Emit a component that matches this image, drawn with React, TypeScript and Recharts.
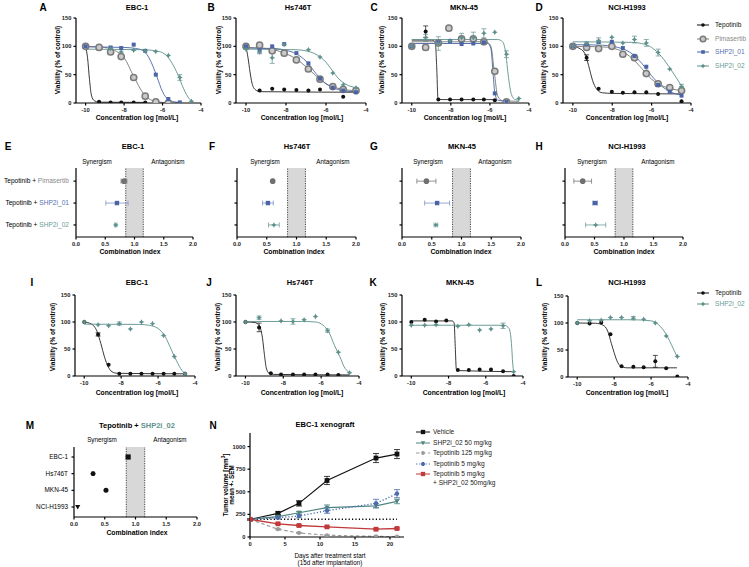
import React from 'react';
import { ComposedChart, Line, Scatter, XAxis, YAxis, ErrorBar, ReferenceArea, ReferenceLine } from 'recharts';

// ---- dose response data: [log conc, viability %, sem] ----
const A_TEP = [[-10, 100], [-9.3, 2], [-8.7, 1], [-8.15, 1], [-7.5, 1], [-6.9, 1]];
const A_TEP_FIT = [[-10, 99], [-9.9, 80], [-9.8, 42], [-9.7, 14], [-9.55, 4], [-9.3, 1.5], [-6.9, 1]];
const A_PIM = [[-10, 100], [-9.3, 98], [-8.7, 90, 3], [-8.15, 82, 3], [-7.5, 45, 3], [-6.9, 12, 3], [-6.35, 2], [-5.7, 0]];
const A_PIM_FIT = [[-10, 100], [-9, 98], [-8.5, 93], [-8, 80], [-7.5, 47], [-7, 17], [-6.5, 4], [-6, 1], [-5.7, 0.5]];
const A_S01 = [[-10, 100], [-8.7, 98], [-8.15, 97], [-7.5, 103], [-6.9, 92], [-6.35, 50], [-5.7, 7], [-5.1, 1]];
const A_S01_FIT = [[-10, 99], [-8, 98], [-7.2, 95], [-6.8, 85], [-6.5, 65], [-6.3, 47], [-6, 20], [-5.7, 6], [-5.3, 1.5], [-5.1, 1]];
const A_S02 = [[-8.7, 96], [-8.15, 90, 4], [-7.5, 93], [-6.9, 92], [-6.35, 91], [-5.7, 84], [-5.1, 45, 5], [-4.5, 3]];
const A_S02_FIT = [[-10, 95], [-7, 94], [-6.2, 91], [-5.8, 84], [-5.5, 70], [-5.2, 50], [-4.9, 25], [-4.6, 7], [-4.5, 4]];

const B_TEP = [[-10, 100], [-9.32, 22], [-8.69, 25], [-8.09, 24], [-7.48, 23], [-6.88, 22], [-6.3, 24], [-5.14, 11], [-4.5, 21]];
const B_TEP_FIT = [[-10, 99], [-9.9, 80], [-9.8, 55], [-9.7, 35], [-9.55, 24], [-9.3, 20], [-4.5, 19]];
const B_PIM = [[-10, 100], [-9.32, 102], [-8.69, 92], [-8.09, 88], [-7.48, 76], [-6.88, 60], [-6.3, 42], [-5.66, 29], [-5.14, 24], [-4.5, 22]];
const B_PIM_FIT = [[-10, 98], [-9, 96], [-8.5, 93], [-8, 87], [-7.5, 78], [-7, 64], [-6.5, 48], [-6, 34], [-5.5, 27], [-5, 23], [-4.5, 22]];
const B_S01 = [[-10, 100], [-9.32, 93, 6], [-8.69, 100], [-8.09, 104], [-7.48, 88], [-6.88, 70], [-6.3, 43], [-5.66, 27], [-5.14, 22], [-4.5, 19]];
const B_S01_FIT = [[-10, 97], [-8.5, 96], [-8, 93], [-7.5, 87], [-7, 74], [-6.5, 52], [-6, 34], [-5.5, 25], [-5, 21], [-4.5, 20]];
const B_S02 = [[-10, 95], [-9.32, 90], [-8.69, 80, 10], [-8.09, 103], [-6.88, 94], [-6.3, 81], [-5.66, 53], [-5.14, 32], [-4.5, 27]];
const B_S02_FIT = [[-10, 95], [-7.5, 94], [-7, 92], [-6.5, 86], [-6, 72], [-5.7, 58], [-5.4, 44], [-5, 33], [-4.5, 27]];

const C_TEP = [[-10, 100], [-9.29, 126, 10], [-8.64, 6], [-8.04, 6], [-7.45, 6], [-6.85, 6], [-6.31, 6], [-5.75, 5]];
const C_TEP_FIT = [[-10, 111], [-9, 111], [-8.8, 108], [-8.72, 60], [-8.66, 8], [-8.5, 6], [-5.75, 6]];
const C_PIM = [[-10, 100], [-9.29, 98], [-8.64, 106], [-8.1, 132], [-7.45, 113], [-6.85, 113], [-6.31, 108], [-5.75, 56], [-5.15, 2]];
const C_PIM_FIT = [[-10, 108], [-6.2, 108], [-5.95, 100], [-5.78, 56], [-5.6, 12], [-5.35, 4], [-4.5, 3]];
const C_S01 = [[-10, 100], [-8.64, 107], [-8.04, 109], [-7.45, 104], [-6.85, 105], [-6.31, 107], [-5.75, 17], [-5.15, 2]];
const C_S01_FIT = [[-10, 105], [-6.1, 105], [-5.95, 96], [-5.85, 58], [-5.75, 18], [-5.6, 5], [-5.15, 3]];
const C_S02 = [[-10, 100], [-9.29, 115, 6], [-8.64, 105, 12], [-8.04, 110], [-7.45, 115, 8], [-6.85, 115, 10], [-6.31, 123, 8], [-5.75, 125], [-5.15, 86, 6], [-4.52, 8]];
const C_S02_FIT = [[-10, 112], [-5.6, 112], [-5.35, 108], [-5.2, 90], [-5.05, 45], [-4.9, 15], [-4.7, 6], [-4.5, 5]];

const D_TEP = [[-10, 100], [-9.3, 80, 5], [-8.69, 25], [-8.02, 20], [-7.46, 18], [-6.87, 19], [-6.27, 19], [-5.67, 16], [-4.48, 3]];
const D_TEP_FIT = [[-10, 100], [-9.7, 97], [-9.4, 88], [-9.2, 66], [-9, 40], [-8.8, 25], [-8.5, 18], [-8, 17], [-4.5, 16]];
const D_PIM = [[-10, 100], [-9.3, 98], [-8.69, 96], [-8.02, 100], [-7.46, 86], [-6.87, 80], [-6.27, 52], [-5.67, 34], [-5.08, 27], [-4.48, 22]];
const D_PIM_FIT = [[-10, 100], [-8.5, 99], [-8, 97], [-7.5, 91], [-7, 79], [-6.5, 61], [-6, 42], [-5.5, 31], [-5, 25], [-4.5, 22]];
const D_S01 = [[-10, 100], [-9.3, 103], [-8.69, 108], [-8.02, 108], [-7.46, 97], [-6.87, 83], [-6.27, 64], [-5.67, 32], [-5.08, 20], [-4.48, 13]];
const D_S01_FIT = [[-10, 103], [-8.5, 102], [-8, 100], [-7.5, 96], [-7, 87], [-6.5, 70], [-6, 48], [-5.5, 30], [-5, 19], [-4.5, 14]];
const D_S02 = [[-10, 100], [-9.3, 105, 3], [-8.69, 110, 5], [-8.02, 116], [-7.46, 106], [-6.87, 112, 6], [-6.27, 106, 6], [-5.67, 89, 6], [-5.08, 60], [-4.48, 29, 4]];
const D_S02_FIT = [[-10, 108], [-7, 107], [-6.5, 105], [-6, 98], [-5.5, 82], [-5, 58], [-4.5, 31]];

const I_TEP = [[-10, 100], [-9.25, 77, 3], [-8.68, 21], [-8.1, 4], [-7.5, 4], [-6.9, 4], [-6.3, 4], [-5.7, 4], [-5.12, 4], [-4.54, 4]];
const I_TEP_FIT = [[-10, 100], [-9.6, 96], [-9.3, 82], [-9.1, 60], [-8.9, 35], [-8.7, 17], [-8.5, 8], [-8.2, 5], [-4.5, 4]];
const I_S02 = [[-10, 100], [-9.25, 95], [-8.68, 93], [-8.1, 97, 3], [-7.5, 87], [-6.9, 100], [-6.3, 97], [-5.7, 75], [-5.12, 36], [-4.54, 4]];
const I_S02_FIT = [[-10, 96], [-7, 95.5], [-6.5, 94], [-6, 88], [-5.6, 72], [-5.3, 50], [-5, 28], [-4.7, 10], [-4.5, 4]];

const J_TEP = [[-10, 100], [-9.28, 90, 8], [-8.66, 5], [-8.12, 3], [-7.49, 3], [-6.9, 3], [-6.3, 3], [-5.66, 3], [-5.09, 2]];
const J_TEP_FIT = [[-10, 100], [-9.5, 99], [-9.25, 92], [-9.1, 70], [-9, 40], [-8.9, 15], [-8.75, 5], [-8.5, 3], [-4.5, 2]];
const J_S02 = [[-10, 100], [-9.28, 108, 3], [-8.12, 102], [-7.49, 101, 5], [-6.9, 104], [-6.3, 110], [-5.66, 84, 3], [-5.09, 44], [-4.5, 6]];
const J_S02_FIT = [[-10, 101], [-7, 101], [-6.3, 100], [-5.9, 94], [-5.6, 82], [-5.3, 57], [-5, 35], [-4.8, 18], [-4.5, 6]];

const K_TEP = [[-10, 100], [-9.28, 104], [-8.67, 101], [-8.12, 103], [-7.5, 11], [-6.91, 11], [-6.33, 12], [-5.72, 12], [-5.07, 9], [-4.5, 0]];
const K_TEP_FIT = [[-10, 102], [-7.8, 102], [-7.7, 98], [-7.64, 55], [-7.58, 12], [-7.4, 10], [-4.5, 8]];
const K_S02 = [[-10, 94], [-9.28, 94], [-8.67, 95], [-7.5, 92], [-6.91, 95], [-6.33, 85], [-5.72, 87], [-5.07, 93, 5], [-4.5, 8]];
const K_S02_FIT = [[-10, 94], [-5, 94], [-4.75, 88], [-4.62, 60], [-4.55, 22], [-4.5, 8]];

const L_TEP = [[-10, 100], [-9.33, 99], [-8.7, 101], [-8.2, 79], [-7.6, 20], [-6.96, 19], [-6.4, 18], [-5.77, 29, 11], [-5.18, 16], [-4.58, 1]];
const L_TEP_FIT = [[-10, 100], [-9, 99.5], [-8.6, 96], [-8.35, 85], [-8.15, 62], [-8, 45], [-7.85, 30], [-7.65, 20], [-7.3, 17], [-4.6, 17]];
const L_S02 = [[-10, 100], [-9.33, 104], [-8.7, 105], [-8.2, 110], [-7.6, 110], [-6.96, 109, 3], [-6.4, 107], [-5.77, 100], [-5.18, 76], [-4.58, 38]];
const L_S02_FIT = [[-10, 106], [-7, 106], [-6, 104], [-5.6, 97], [-5.2, 80], [-4.9, 60], [-4.6, 38]];

// ---- combination index: [CI, error] for Pimasertib, SHP2i_01, SHP2i_02 ----
const CI_E = [[0.82, 0.05], [0.70, 0.19], [0.68, 0.02]];
const CI_F = [[0.6, 0.01], [0.52, 0.09], [0.62, 0.09]];
const CI_G = [[0.41, 0.16], [0.59, 0.21], [0.57, 0.03]];
const CI_H = [[0.30, 0.15], [0.51, 0.04], [0.52, 0.17]];

const M_CELLS = ['EBC-1', 'Hs746T', 'MKN-45', 'NCI-H1993'];
const M_CI = [0.88, 0.31, 0.52, 0.06];

// ---- xenograft ----
const N_DAYS = [0, 4, 7, 11, 18, 21];
const N_VEH = [195, 262, 372, 625, 873, 917];
const N_VEH_E = [10, 15, 30, 45, 50, 50];
const N_S02 = [195, 225, 268, 325, 345, 393];
const N_S02_E = [5, 10, 15, 30, 25, 25];
const N_T125 = [195, 86, 45, 19, 7, 4];
const N_T125_E = [5, 8, 5, 4, 3, 3];
const N_T5 = [195, 213, 232, 292, 372, 479];
const N_T5_E = [5, 12, 20, 30, 45, 45];
const N_COMBO = [195, 146, 127, 112, 86, 94];
const N_COMBO_E = [5, 8, 8, 8, 8, 8];
const N_BASE = 195;

const FONT = '"Liberation Sans", Arial, Helvetica, sans-serif';
const AX = { stroke: '#000', strokeWidth: 1.2 };
const TICK = { fontSize: 5.8, fontWeight: 700, fill: '#222', fontFamily: FONT };

const DRUG: any = {
  tep: { color: '#111', line: '#222', kind: 'circle', s: 2, name: 'Tepotinib', text: '#111' },
  pim: { color: '#7a7a7a', line: '#777', kind: 'ring', s: 3.1, name: 'Pimasertib', text: '#8a8a8a' },
  s01: { color: '#4a64a6', line: '#4a64a6', kind: 'square', s: 2, name: 'SHP2i_01', text: '#5470b0' },
  s02: { color: '#5e918c', line: '#5e918c', kind: 'star', s: 2.8, name: 'SHP2i_02', text: '#6a9b96' },
};

const toXY = (a: number[][]) => a.map(([x, y, e]) => ({ x, y, e: e ?? 0 }));

function Mark({ kind, cx, cy, color, s }: any) {
  if (cx == null || cy == null || isNaN(cx) || isNaN(cy)) return <g />;
  switch (kind) {
    case 'ring':
      return <circle cx={cx} cy={cy} r={s} fill="#c9c9c9" stroke={color} strokeWidth={1.5} />;
    case 'square':
      return <rect x={cx - s} y={cy - s} width={2 * s} height={2 * s} fill={color} />;
    case 'star': {
      const k = s * 0.35;
      return <path d={`M${cx},${cy - s}L${cx + k},${cy - k}L${cx + s},${cy}L${cx + k},${cy + k}L${cx},${cy + s}L${cx - k},${cy + k}L${cx - s},${cy}L${cx - k},${cy - k}Z`} fill={color} />;
    }
    case 'diamond':
      return <path d={`M${cx},${cy - s}L${cx + s},${cy}L${cx},${cy + s}L${cx - s},${cy}Z`} fill={color} />;
    case 'tri':
      return <path d={`M${cx - s},${cy - s * 0.8}L${cx + s},${cy - s * 0.8}L${cx},${cy + s}Z`} fill={color} />;
    case 'hex': {
      const h = s * 0.87;
      return <path d={`M${cx - s},${cy}L${cx - s / 2},${cy - h}L${cx + s / 2},${cy - h}L${cx + s},${cy}L${cx + s / 2},${cy + h}L${cx - s / 2},${cy + h}Z`} fill={color} />;
    }
    default:
      return <circle cx={cx} cy={cy} r={s} fill={color} />;
  }
}

function Txt({ x, y, size = 6.5, bold = false, align = 'c', color = '#000', rot = false, lh = 1.1, children }: any) {
  const tx = align === 'c' ? '-50%' : align === 'r' ? '-100%' : '0';
  return (
    <div style={{
      position: 'absolute', left: x, top: y, fontSize: size, fontWeight: bold ? 700 : 400, color,
      fontFamily: FONT, whiteSpace: 'nowrap', lineHeight: lh, textAlign: 'center',
      transform: `translate(${tx},-50%)${rot ? ' rotate(-90deg)' : ''}`,
    }}>{children}</div>
  );
}

function Frame({ r, yw = 20, xh = 12, children }: any) {
  const { x0, x1, y0, y1 } = r;
  return (
    <div style={{ position: 'absolute', left: x0 - yw, top: y0 - 4 }}>
      <ComposedChart width={yw + (x1 - x0) + 6} height={4 + (y1 - y0) + xh} margin={{ top: 4, right: 6, bottom: 0, left: 0 }}>
        {children}
      </ComposedChart>
    </div>
  );
}

function DosePanel({ r, series }: any) {
  return (
    <Frame r={r}>
      <XAxis type="number" dataKey="x" domain={[-10.5, -4]} ticks={[-10, -8, -6, -4]} allowDataOverflow height={12}
        tick={TICK} tickSize={2.5} axisLine={AX} tickLine={AX} interval={0} />
      <YAxis type="number" dataKey="y" domain={[0, 150]} ticks={[0, 50, 100, 150]} allowDataOverflow width={20}
        tick={TICK} tickSize={2.5} axisLine={AX} tickLine={AX} interval={0} />
      {series.map((s: any, i: number) => (
        <Line key={'f' + i} data={toXY(s.fit)} dataKey="y" type="monotone" stroke={DRUG[s.d].line}
          strokeWidth={0.9} dot={false} isAnimationActive={false} />
      ))}
      {series.map((s: any, i: number) => {
        const d = DRUG[s.d];
        return (
          <Scatter key={'p' + i} data={toXY(s.pts)} dataKey="y" isAnimationActive={false}
            shape={(p: any) => <Mark kind={d.kind} cx={p.cx} cy={p.cy} color={d.color} s={d.s} />}>
            <ErrorBar dataKey="e" direction="y" width={2.5} stroke={d.color} strokeWidth={0.7} />
          </Scatter>
        );
      })}
    </Frame>
  );
}

function CIPanel({ r, vals, rows, kinds }: any) {
  const lo = 0.4;
  const hi = rows === 3 ? 3.55 : 4.6;
  return (
    <Frame r={r}>
      <XAxis type="number" dataKey="x" domain={[0, 2]} ticks={[0, 0.5, 1, 1.5, 2]} height={12}
        tickFormatter={(v: number) => v.toFixed(1)} tick={TICK} tickSize={2.5} axisLine={AX} tickLine={AX} interval={0} />
      <YAxis type="number" dataKey="y" domain={[lo, hi]} reversed ticks={Array.from({ length: rows }, (_, i) => i + 1)}
        width={20} tickFormatter={() => ''} tickSize={2.5} axisLine={AX} tickLine={AX} interval={0} />
      <ReferenceArea x1={0.85} x2={1.15} y1={lo} y2={hi} fill="#d8d8d8" fillOpacity={1} stroke="none" />
      <ReferenceLine x={0.85} stroke="#333" strokeWidth={0.9} strokeDasharray="1.2 1.2" />
      <ReferenceLine x={1.15} stroke="#333" strokeWidth={0.9} strokeDasharray="1.2 1.2" />
      {vals.map((v: number[], i: number) => {
        const k = kinds[i];
        return (
          <Scatter key={'c' + i} data={[{ x: v[0], y: i + 1, e: v[1] ?? 0 }]} dataKey="y" isAnimationActive={false}
            shape={(p: any) => <Mark kind={k.kind} cx={p.cx} cy={p.cy} color={k.color} s={k.s} />}>
            <ErrorBar dataKey="e" direction="x" width={2.5} stroke={k.bar} strokeWidth={0.8} />
          </Scatter>
        );
      })}
    </Frame>
  );
}

const CI_KINDS = [
  { kind: 'circle', color: '#707070', bar: '#777', s: 2.8 },
  { kind: 'square', color: '#4a64a6', bar: '#7d93c6', s: 2.2 },
  { kind: 'star', color: '#5e918c', bar: '#6d9d98', s: 2.8 },
];
const M_KINDS = [
  { kind: 'square', color: '#111', bar: '#111', s: 2.6 },
  { kind: 'hex', color: '#111', bar: '#111', s: 2.7 },
  { kind: 'circle', color: '#111', bar: '#111', s: 2.5 },
  { kind: 'tri', color: '#111', bar: '#111', s: 2.6 },
];

function LegendRow({ x, y, kind, color, s, text, textColor, dash, lineW = 12, tx = 12, children }: any) {
  return (
    <>
      <svg style={{ position: 'absolute', left: x - lineW / 2, top: y - 5 }} width={lineW} height={10}>
        <line x1={0} y1={5} x2={lineW} y2={5} stroke={color} strokeWidth={1} strokeDasharray={dash} />
        <Mark kind={kind} cx={lineW / 2} cy={5} color={color} s={s} />
      </svg>
      <Txt x={x + tx} y={y} align="l" color={textColor ?? color} size={6.6}>{text}{children}</Txt>
    </>
  );
}

function DrugLegend({ x, y, keys, step }: any) {
  return (
    <>
      {keys.map((k: string, i: number) => {
        const d = DRUG[k];
        return <LegendRow key={k} x={x} y={y + i * step} kind={d.kind} color={d.color} s={d.s * 0.9} text={d.name} textColor={d.text} />;
      })}
    </>
  );
}

const nSeries = (vals: number[], errs: number[]) => N_DAYS.map((d, i) => ({ x: d, y: vals[i], e: errs[i] }));

const N_LINES = [
  { key: 'veh', vals: N_VEH, errs: N_VEH_E, color: '#111', kind: 'square', s: 2.4, dash: undefined, w: 1.2, name: 'Vehicle' },
  { key: 's02', vals: N_S02, errs: N_S02_E, color: '#4e8480', kind: 'tri', s: 2.4, dash: undefined, w: 1.2, name: 'SHP2i_02 50 mg/kg' },
  { key: 't125', vals: N_T125, errs: N_T125_E, color: '#9a9a9a', kind: 'circle', s: 2.1, dash: '3.5 2.5', w: 1.2, name: 'Tepotinib 125 mg/kg' },
  { key: 't5', vals: N_T5, errs: N_T5_E, color: '#4a6cae', kind: 'hex', s: 2.4, dash: '1.2 2', w: 1.4, name: 'Tepotinib 5 mg/kg' },
  { key: 'combo', vals: N_COMBO, errs: N_COMBO_E, color: '#c0393b', kind: 'square', s: 2.4, dash: undefined, w: 1.3, name: 'Tepotinib 5 mg/kg' },
];

function Xenograft() {
  return (
    <Frame r={{ x0: 250, x1: 404, y0: 433, y1: 537 }}>
      <XAxis type="number" dataKey="x" domain={[0, 22]} ticks={[0, 5, 10, 15, 20]} allowDataOverflow height={12}
        tick={TICK} tickSize={2.5} axisLine={AX} tickLine={AX} interval={0} />
      <YAxis type="number" dataKey="y" domain={[0, 1150]} ticks={[0, 250, 500, 750, 1000]} allowDataOverflow width={20}
        tick={TICK} tickSize={2.5} axisLine={AX} tickLine={AX} interval={0} />
      <ReferenceLine segment={[{ x: 0, y: N_BASE }, { x: 21, y: N_BASE }]} stroke="#000" strokeWidth={1.5} strokeDasharray="1.2 2.2" />
      {N_LINES.map((l) => (
        <Line key={l.key} data={nSeries(l.vals, l.errs)} dataKey="y" type="linear" stroke={l.color} strokeWidth={l.w}
          strokeDasharray={l.dash} isAnimationActive={false}
          dot={(p: any) => <Mark key={l.key + p.index} kind={l.kind} cx={p.cx} cy={p.cy} color={l.color} s={l.s} />}>
          <ErrorBar dataKey="e" direction="y" width={3} stroke={l.color} strokeWidth={0.8} />
        </Line>
      ))}
    </Frame>
  );
}

const VIAB = 'Viability (% of control)';
const CONC = 'Concentration log [mol/L]';

function CILabels({ x, y }: any) {
  return (
    <>
      {['pim', 's01', 's02'].map((k, i) => (
        <Txt key={k} x={x} y={y + i * 22} align="r" size={6.6}>
          Tepotinib + <span style={{ color: DRUG[k].text }}>{DRUG[k].name}</span>
        </Txt>
      ))}
    </>
  );
}

export default function App() {
  const rowTitles = [
    { l: 'A', lx: 43, t: 'EBC-1', tx: 137 }, { l: 'B', lx: 211, t: 'Hs746T', tx: 298 },
    { l: 'C', lx: 374, t: 'MKN-45', tx: 464 }, { l: 'D', lx: 539, t: 'NCI-H1993', tx: 627 },
  ];
  return (
    <div style={{ position: 'absolute', left: 0, top: 0, width: 749, height: 567, background: '#fff', overflow: 'hidden', fontFamily: FONT }}>
      {/* Row 1 */}
      {rowTitles.map((r) => (
        <React.Fragment key={r.l}>
          <Txt x={r.lx} y={7} size={10} bold>{r.l}</Txt>
          <Txt x={r.tx} y={8} size={7.5} bold>{r.t}</Txt>
        </React.Fragment>
      ))}
      <DosePanel r={{ x0: 76, x1: 201, y0: 18, y1: 103 }} series={[
        { d: 'tep', pts: A_TEP, fit: A_TEP_FIT }, { d: 'pim', pts: A_PIM, fit: A_PIM_FIT },
        { d: 's01', pts: A_S01, fit: A_S01_FIT }, { d: 's02', pts: A_S02, fit: A_S02_FIT }]} />
      <DosePanel r={{ x0: 236, x1: 366, y0: 18, y1: 103 }} series={[
        { d: 'tep', pts: B_TEP, fit: B_TEP_FIT }, { d: 'pim', pts: B_PIM, fit: B_PIM_FIT },
        { d: 's01', pts: B_S01, fit: B_S01_FIT }, { d: 's02', pts: B_S02, fit: B_S02_FIT }]} />
      <DosePanel r={{ x0: 402, x1: 529, y0: 18, y1: 103 }} series={[
        { d: 'tep', pts: C_TEP, fit: C_TEP_FIT }, { d: 'pim', pts: C_PIM, fit: C_PIM_FIT },
        { d: 's01', pts: C_S01, fit: C_S01_FIT }, { d: 's02', pts: C_S02, fit: C_S02_FIT }]} />
      <DosePanel r={{ x0: 563, x1: 691, y0: 18, y1: 103 }} series={[
        { d: 'tep', pts: D_TEP, fit: D_TEP_FIT }, { d: 'pim', pts: D_PIM, fit: D_PIM_FIT },
        { d: 's01', pts: D_S01, fit: D_S01_FIT }, { d: 's02', pts: D_S02, fit: D_S02_FIT }]} />
      {[58, 219, 382, 544].map((x) => <Txt key={'vy' + x} x={x} y={60} size={6.5} bold rot>{VIAB}</Txt>)}
      {[137, 302, 465, 627].map((x) => <Txt key={'cx' + x} x={x} y={118} size={6.8} bold>{CONC}</Txt>)}
      <DrugLegend x={703} y={25} keys={['tep', 'pim', 's01', 's02']} step={13.7} />

      {/* Row 2 */}
      {[{ l: 'E', lx: 8, t: 'EBC-1', tx: 133, sx: 97, ax: 168, cx: 130 },
        { l: 'F', lx: 212, t: 'Hs746T', tx: 297, sx: 265, ax: 333, cx: 294 },
        { l: 'G', lx: 374, t: 'MKN-45', tx: 462, sx: 428, ax: 495, cx: 461 },
        { l: 'H', lx: 539, t: 'NCI-H1993', tx: 627, sx: 592, ax: 658, cx: 624 }].map((p) => (
        <React.Fragment key={p.l}>
          <Txt x={p.lx} y={146} size={10} bold>{p.l}</Txt>
          <Txt x={p.tx} y={147} size={7.5} bold>{p.t}</Txt>
          <Txt x={p.sx} y={162} size={6.3}>Synergism</Txt>
          <Txt x={p.ax} y={162} size={6.3}>Antagonism</Txt>
          <Txt x={p.cx} y={252} size={6.8} bold>Combination index</Txt>
        </React.Fragment>
      ))}
      <CIPanel r={{ x0: 76, x1: 193, y0: 168, y1: 237 }} vals={CI_E} rows={3} kinds={CI_KINDS} />
      <CIPanel r={{ x0: 237, x1: 356, y0: 168, y1: 237 }} vals={CI_F} rows={3} kinds={CI_KINDS} />
      <CIPanel r={{ x0: 402, x1: 521, y0: 168, y1: 237 }} vals={CI_G} rows={3} kinds={CI_KINDS} />
      <CIPanel r={{ x0: 565, x1: 683, y0: 168, y1: 237 }} vals={CI_H} rows={3} kinds={CI_KINDS} />
      <CILabels x={69} y={181} />

      {/* Row 3 */}
      {[{ l: 'I', lx: 32, t: 'EBC-1', tx: 137 }, { l: 'J', lx: 209, t: 'Hs746T', tx: 300 },
        { l: 'K', lx: 373, t: 'MKN-45', tx: 460 }, { l: 'L', lx: 539, t: 'NCI-H1993', tx: 627 }].map((p) => (
        <React.Fragment key={p.l}>
          <Txt x={p.lx} y={282} size={10} bold>{p.l}</Txt>
          <Txt x={p.tx} y={283} size={7.5} bold>{p.t}</Txt>
        </React.Fragment>
      ))}
      <DosePanel r={{ x0: 75, x1: 195, y0: 295, y1: 376 }} series={[
        { d: 'tep', pts: I_TEP, fit: I_TEP_FIT }, { d: 's02', pts: I_S02, fit: I_S02_FIT }]} />
      <DosePanel r={{ x0: 236, x1: 359, y0: 295, y1: 376 }} series={[
        { d: 'tep', pts: J_TEP, fit: J_TEP_FIT }, { d: 's02', pts: J_S02, fit: J_S02_FIT }]} />
      <DosePanel r={{ x0: 402, x1: 523, y0: 295, y1: 376 }} series={[
        { d: 'tep', pts: K_TEP, fit: K_TEP_FIT }, { d: 's02', pts: K_S02, fit: K_S02_FIT }]} />
      <DosePanel r={{ x0: 568, x1: 688, y0: 296, y1: 377 }} series={[
        { d: 'tep', pts: L_TEP, fit: L_TEP_FIT }, { d: 's02', pts: L_S02, fit: L_S02_FIT }]} />
      {[53, 218, 383, 545].map((x) => <Txt key={'vy2' + x} x={x} y={337} size={6.5} bold rot>{VIAB}</Txt>)}
      {[137, 302, 464, 627].map((x) => <Txt key={'cx2' + x} x={x} y={393} size={6.8} bold>{CONC}</Txt>)}
      <DrugLegend x={703} y={293} keys={['tep', 's02']} step={10.5} />

      {/* Row 4: M */}
      <Txt x={30} y={425} size={10} bold>M</Txt>
      <Txt x={137} y={426} size={7.5} bold>Tepotinib + <span style={{ color: '#5e918c' }}>SHP2i_02</span></Txt>
      <Txt x={102} y={440} size={6.3}>Synergism</Txt>
      <Txt x={170} y={440} size={6.3}>Antagonism</Txt>
      <CIPanel r={{ x0: 74, x1: 197, y0: 447, y1: 517 }} vals={M_CI.map((v) => [v, 0])} rows={4} kinds={M_KINDS} />
      {M_CELLS.map((c, i) => <Txt key={c} x={68} y={457 + i * 16.7} align="r" size={6.4}>{c}</Txt>)}
      <Txt x={137} y={533} size={6.8} bold>Combination index</Txt>

      {/* Row 4: N */}
      <Txt x={213} y={425} size={10} bold>N</Txt>
      <Txt x={325} y={425} size={7.5} bold>EBC-1 xenograft</Txt>
      <Txt x={229} y={485} size={6.3} bold rot lh={1}>Tumor volume [mm<sup style={{ fontSize: 4.5, lineHeight: 0 }}>3</sup>]<br />mean +- SEM</Txt>
      <Xenograft />
      <Txt x={330} y={556} size={6.3}>Days after treatment start</Txt>
      <Txt x={330} y={563} size={6.3}>(15d after implantation)</Txt>
      {N_LINES.map((l, i) => (
        <LegendRow key={l.key} x={423} y={432 + i * 10.6} kind={l.kind} color={l.color} s={l.s * 0.9}
          dash={l.dash} lineW={14} tx={10} text={l.name} textColor="#222" />
      ))}
      <Txt x={433} y={483} align="l" size={6.6} color="#222">+ SHP2i_02 50mg/kg</Txt>
    </div>
  );
}
